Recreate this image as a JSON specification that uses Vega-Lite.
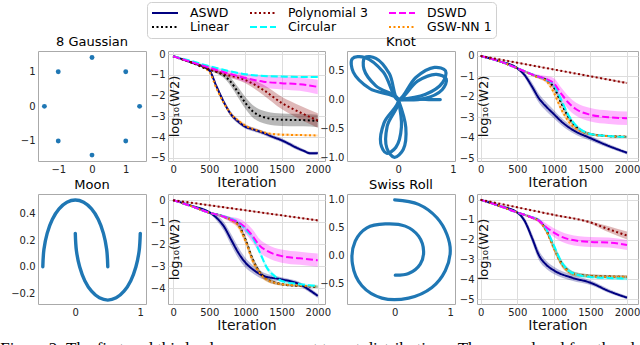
{
"$schema": "https://vega.github.io/schema/vega-lite/v6.json",
"padding": {"left": 0, "top": 1, "right": 0, "bottom": 0},
"background": "white",
"datasets": {
"shapes": [
{"p":"ga","t":"a","i":0,"x":1.41,"y":0},{"p":"ga","t":"a","i":1,"x":1,"y":1},{"p":"ga","t":"a","i":2,"x":0,"y":1.41},{"p":"ga","t":"a","i":3,"x":-1,"y":1},{"p":"ga","t":"a","i":4,"x":-1.41,"y":0},{"p":"ga","t":"a","i":5,"x":-1,"y":-1},{"p":"ga","t":"a","i":6,"x":0,"y":-1.41},{"p":"ga","t":"a","i":7,"x":1,"y":-1},
{"p":"kn","t":"a","i":0,"x":0,"y":0},{"p":"kn","t":"a","i":1,"x":0.492,"y":0.087},{"p":"kn","t":"a","i":2,"x":0.814,"y":0.296},{"p":"kn","t":"a","i":3,"x":0.866,"y":0.5},{"p":"kn","t":"a","i":4,"x":0.663,"y":0.557},{"p":"kn","t":"a","i":5,"x":0.321,"y":0.383},{"p":"kn","t":"a","i":6,"x":0,"y":0},{"p":"kn","t":"a","i":7,"x":-0.275,"y":0.476},{"p":"kn","t":"a","i":8,"x":-0.613,"y":0.729},{"p":"kn","t":"a","i":9,"x":-0.843,"y":0.707},{"p":"kn","t":"a","i":10,"x":-0.825,"y":0.476},{"p":"kn","t":"a","i":11,"x":-0.517,"y":0.188},{"p":"kn","t":"a","i":12,"x":0,"y":0},{"p":"kn","t":"a","i":13,"x":-0.203,"y":-0.457},{"p":"kn","t":"a","i":14,"x":-0.209,"y":-0.84},{"p":"kn","t":"a","i":15,"x":-0.07,"y":-0.998},{"p":"kn","t":"a","i":16,"x":0.091,"y":-0.861},{"p":"kn","t":"a","i":17,"x":0.138,"y":-0.481},{"p":"kn","t":"a","i":18,"x":0,"y":0},
{"p":"kn","t":"b","i":0,"x":0,"y":0},{"p":"kn","t":"b","i":1,"x":0.475,"y":0.017},{"p":"kn","t":"b","i":2,"x":0.805,"y":0.171},{"p":"kn","t":"b","i":3,"x":0.881,"y":0.356},{"p":"kn","t":"b","i":4,"x":0.698,"y":0.436},{"p":"kn","t":"b","i":5,"x":0.353,"y":0.318},{"p":"kn","t":"b","i":6,"x":0,"y":0},{"p":"kn","t":"b","i":7,"x":-0.162,"y":0.446},{"p":"kn","t":"b","i":8,"x":-0.411,"y":0.713},{"p":"kn","t":"b","i":9,"x":-0.611,"y":0.728},{"p":"kn","t":"b","i":10,"x":-0.63,"y":0.529},{"p":"kn","t":"b","i":11,"x":-0.411,"y":0.238},{"p":"kn","t":"b","i":12,"x":0,"y":0},{"p":"kn","t":"b","i":13,"x":-0.259,"y":-0.398},{"p":"kn","t":"b","i":14,"x":-0.322,"y":-0.758},{"p":"kn","t":"b","i":15,"x":-0.214,"y":-0.926},{"p":"kn","t":"b","i":16,"x":-0.043,"y":-0.822},{"p":"kn","t":"b","i":17,"x":0.058,"y":-0.471},{"p":"kn","t":"b","i":18,"x":0,"y":0},
{"p":"kn","t":"c","i":0,"x":0,"y":0},{"p":"kn","t":"c","i":1,"x":0.2,"y":0.01},{"p":"kn","t":"c","i":2,"x":0.4,"y":0.01},{"p":"kn","t":"c","i":3,"x":0.6,"y":0},{"p":"kn","t":"c","i":4,"x":0.77,"y":0},
{"p":"mo","t":"u","i":0,"x":0.5,"y":0},{"p":"mo","t":"u","i":1,"x":0.483,"y":0.129},{"p":"mo","t":"u","i":2,"x":0.433,"y":0.25},{"p":"mo","t":"u","i":3,"x":0.354,"y":0.354},{"p":"mo","t":"u","i":4,"x":0.25,"y":0.433},{"p":"mo","t":"u","i":5,"x":0.129,"y":0.483},{"p":"mo","t":"u","i":6,"x":0,"y":0.5},{"p":"mo","t":"u","i":7,"x":-0.129,"y":0.483},{"p":"mo","t":"u","i":8,"x":-0.25,"y":0.433},{"p":"mo","t":"u","i":9,"x":-0.354,"y":0.354},{"p":"mo","t":"u","i":10,"x":-0.433,"y":0.25},{"p":"mo","t":"u","i":11,"x":-0.483,"y":0.129},{"p":"mo","t":"u","i":12,"x":-0.5,"y":0},
{"p":"mo","t":"l","i":0,"x":0,"y":0.25},{"p":"mo","t":"l","i":1,"x":0.017,"y":0.121},{"p":"mo","t":"l","i":2,"x":0.067,"y":0},{"p":"mo","t":"l","i":3,"x":0.146,"y":-0.104},{"p":"mo","t":"l","i":4,"x":0.25,"y":-0.183},{"p":"mo","t":"l","i":5,"x":0.371,"y":-0.233},{"p":"mo","t":"l","i":6,"x":0.5,"y":-0.25},{"p":"mo","t":"l","i":7,"x":0.629,"y":-0.233},{"p":"mo","t":"l","i":8,"x":0.75,"y":-0.183},{"p":"mo","t":"l","i":9,"x":0.854,"y":-0.104},{"p":"mo","t":"l","i":10,"x":0.933,"y":0},{"p":"mo","t":"l","i":11,"x":0.983,"y":0.121},{"p":"mo","t":"l","i":12,"x":1,"y":0.25},
{"p":"sw","t":"a","i":0,"x":0,"y":1.0},{"p":"sw","t":"a","i":1,"x":0.43,"y":0.92},{"p":"sw","t":"a","i":2,"x":0.76,"y":0.68},{"p":"sw","t":"a","i":3,"x":0.94,"y":0.38},{"p":"sw","t":"a","i":4,"x":1.0,"y":0.08},{"p":"sw","t":"a","i":5,"x":0.91,"y":-0.27},{"p":"sw","t":"a","i":6,"x":0.67,"y":-0.57},{"p":"sw","t":"a","i":7,"x":0.25,"y":-0.76},{"p":"sw","t":"a","i":8,"x":-0.23,"y":-0.76},{"p":"sw","t":"a","i":9,"x":-0.59,"y":-0.54},{"p":"sw","t":"a","i":10,"x":-0.76,"y":-0.15},{"p":"sw","t":"a","i":11,"x":-0.71,"y":0.26},{"p":"sw","t":"a","i":12,"x":-0.5,"y":0.5},{"p":"sw","t":"a","i":13,"x":-0.17,"y":0.57},{"p":"sw","t":"a","i":14,"x":0.19,"y":0.53},{"p":"sw","t":"a","i":15,"x":0.43,"y":0.35},{"p":"sw","t":"a","i":16,"x":0.52,"y":0.08},{"p":"sw","t":"a","i":17,"x":0.46,"y":-0.15},{"p":"sw","t":"a","i":18,"x":0.25,"y":-0.32},{"p":"sw","t":"a","i":19,"x":0.01,"y":-0.35}
],
"curves": [
{"p":"g","m":"ASWD","x":0,"y":-0.1,"lo":-0.12,"hi":-0.08},{"p":"g","m":"ASWD","x":250,"y":-0.4,"lo":-0.43,"hi":-0.37},{"p":"g","m":"ASWD","x":500,"y":-0.78,"lo":-0.83,"hi":-0.73},{"p":"g","m":"ASWD","x":600,"y":-1.55,"lo":-1.65,"hi":-1.45},{"p":"g","m":"ASWD","x":700,"y":-2.3,"lo":-2.42,"hi":-2.18},{"p":"g","m":"ASWD","x":800,"y":-2.9,"lo":-3.02,"hi":-2.78},{"p":"g","m":"ASWD","x":900,"y":-3.25,"lo":-3.35,"hi":-3.15},{"p":"g","m":"ASWD","x":1000,"y":-3.5,"lo":-3.6,"hi":-3.4},{"p":"g","m":"ASWD","x":1100,"y":-3.62,"lo":-3.72,"hi":-3.52},{"p":"g","m":"ASWD","x":1250,"y":-3.8,"lo":-3.9,"hi":-3.7},{"p":"g","m":"ASWD","x":1400,"y":-4.02,"lo":-4.12,"hi":-3.92},{"p":"g","m":"ASWD","x":1500,"y":-4.15,"lo":-4.25,"hi":-4.05},{"p":"g","m":"ASWD","x":1600,"y":-4.32,"lo":-4.42,"hi":-4.22},{"p":"g","m":"ASWD","x":1700,"y":-4.5,"lo":-4.6,"hi":-4.4},{"p":"g","m":"ASWD","x":1800,"y":-4.65,"lo":-4.73,"hi":-4.57},{"p":"g","m":"ASWD","x":1900,"y":-4.78,"lo":-4.86,"hi":-4.7},{"p":"g","m":"ASWD","x":2000,"y":-4.77,"lo":-4.85,"hi":-4.69},
{"p":"g","m":"GSW-NN 1","x":0,"y":-0.1,"lo":-0.12,"hi":-0.08},{"p":"g","m":"GSW-NN 1","x":250,"y":-0.4,"lo":-0.43,"hi":-0.37},{"p":"g","m":"GSW-NN 1","x":500,"y":-0.85,"lo":-0.9,"hi":-0.8},{"p":"g","m":"GSW-NN 1","x":600,"y":-1.65,"lo":-1.73,"hi":-1.57},{"p":"g","m":"GSW-NN 1","x":700,"y":-2.35,"lo":-2.43,"hi":-2.27},{"p":"g","m":"GSW-NN 1","x":800,"y":-2.88,"lo":-2.96,"hi":-2.8},{"p":"g","m":"GSW-NN 1","x":900,"y":-3.2,"lo":-3.28,"hi":-3.12},{"p":"g","m":"GSW-NN 1","x":1000,"y":-3.45,"lo":-3.53,"hi":-3.37},{"p":"g","m":"GSW-NN 1","x":1100,"y":-3.6,"lo":-3.66,"hi":-3.54},{"p":"g","m":"GSW-NN 1","x":1200,"y":-3.72,"lo":-3.78,"hi":-3.66},{"p":"g","m":"GSW-NN 1","x":1350,"y":-3.84,"lo":-3.89,"hi":-3.79},{"p":"g","m":"GSW-NN 1","x":1500,"y":-3.88,"lo":-3.93,"hi":-3.83},{"p":"g","m":"GSW-NN 1","x":1750,"y":-3.9,"lo":-3.95,"hi":-3.85},{"p":"g","m":"GSW-NN 1","x":2000,"y":-3.92,"lo":-3.97,"hi":-3.87},
{"p":"g","m":"Linear","x":0,"y":-0.1,"lo":-0.12,"hi":-0.08},{"p":"g","m":"Linear","x":250,"y":-0.4,"lo":-0.43,"hi":-0.37},{"p":"g","m":"Linear","x":500,"y":-0.75,"lo":-0.8,"hi":-0.7},{"p":"g","m":"Linear","x":600,"y":-0.85,"lo":-0.93,"hi":-0.77},{"p":"g","m":"Linear","x":700,"y":-1.02,"lo":-1.14,"hi":-0.9},{"p":"g","m":"Linear","x":800,"y":-1.35,"lo":-1.55,"hi":-1.15},{"p":"g","m":"Linear","x":900,"y":-1.85,"lo":-2.1,"hi":-1.6},{"p":"g","m":"Linear","x":1000,"y":-2.35,"lo":-2.63,"hi":-2.07},{"p":"g","m":"Linear","x":1100,"y":-2.75,"lo":-3.05,"hi":-2.45},{"p":"g","m":"Linear","x":1200,"y":-2.97,"lo":-3.27,"hi":-2.67},{"p":"g","m":"Linear","x":1300,"y":-3.08,"lo":-3.38,"hi":-2.78},{"p":"g","m":"Linear","x":1400,"y":-3.14,"lo":-3.44,"hi":-2.84},{"p":"g","m":"Linear","x":1600,"y":-3.17,"lo":-3.47,"hi":-2.87},{"p":"g","m":"Linear","x":1800,"y":-3.18,"lo":-3.48,"hi":-2.88},{"p":"g","m":"Linear","x":2000,"y":-3.22,"lo":-3.52,"hi":-2.92},
{"p":"g","m":"Polynomial 3","x":0,"y":-0.1,"lo":-0.12,"hi":-0.08},{"p":"g","m":"Polynomial 3","x":250,"y":-0.4,"lo":-0.43,"hi":-0.37},{"p":"g","m":"Polynomial 3","x":500,"y":-0.72,"lo":-0.77,"hi":-0.67},{"p":"g","m":"Polynomial 3","x":750,"y":-1.0,"lo":-1.1,"hi":-0.9},{"p":"g","m":"Polynomial 3","x":1000,"y":-1.25,"lo":-1.4,"hi":-1.1},{"p":"g","m":"Polynomial 3","x":1250,"y":-1.73,"lo":-1.98,"hi":-1.48},{"p":"g","m":"Polynomial 3","x":1500,"y":-2.35,"lo":-2.65,"hi":-2.05},{"p":"g","m":"Polynomial 3","x":1750,"y":-2.8,"lo":-3.13,"hi":-2.47},{"p":"g","m":"Polynomial 3","x":2000,"y":-3.2,"lo":-3.55,"hi":-2.85},
{"p":"g","m":"Circular","x":0,"y":-0.1,"lo":-0.12,"hi":-0.08},{"p":"g","m":"Circular","x":250,"y":-0.33,"lo":-0.36,"hi":-0.3},{"p":"g","m":"Circular","x":500,"y":-0.58,"lo":-0.62,"hi":-0.54},{"p":"g","m":"Circular","x":750,"y":-0.8,"lo":-0.85,"hi":-0.75},{"p":"g","m":"Circular","x":1000,"y":-0.97,"lo":-1.02,"hi":-0.92},{"p":"g","m":"Circular","x":1250,"y":-1.05,"lo":-1.1,"hi":-1.0},{"p":"g","m":"Circular","x":1500,"y":-1.08,"lo":-1.13,"hi":-1.03},{"p":"g","m":"Circular","x":1750,"y":-1.1,"lo":-1.15,"hi":-1.05},{"p":"g","m":"Circular","x":2000,"y":-1.1,"lo":-1.15,"hi":-1.05},
{"p":"g","m":"DSWD","x":0,"y":-0.1,"lo":-0.12,"hi":-0.08},{"p":"g","m":"DSWD","x":250,"y":-0.38,"lo":-0.41,"hi":-0.35},{"p":"g","m":"DSWD","x":500,"y":-0.65,"lo":-0.7,"hi":-0.6},{"p":"g","m":"DSWD","x":750,"y":-0.92,"lo":-1.04,"hi":-0.8},{"p":"g","m":"DSWD","x":1000,"y":-1.15,"lo":-1.35,"hi":-0.95},{"p":"g","m":"DSWD","x":1250,"y":-1.33,"lo":-1.61,"hi":-1.05},{"p":"g","m":"DSWD","x":1500,"y":-1.4,"lo":-1.7,"hi":-1.1},{"p":"g","m":"DSWD","x":1750,"y":-1.45,"lo":-1.77,"hi":-1.13},{"p":"g","m":"DSWD","x":2000,"y":-1.58,"lo":-1.93,"hi":-1.23},
{"p":"k","m":"ASWD","x":0,"y":-0.02,"lo":-0.04,"hi":0},{"p":"k","m":"ASWD","x":250,"y":-0.27,"lo":-0.3,"hi":-0.24},{"p":"k","m":"ASWD","x":500,"y":-0.62,"lo":-0.68,"hi":-0.56},{"p":"k","m":"ASWD","x":600,"y":-0.95,"lo":-1.07,"hi":-0.83},{"p":"k","m":"ASWD","x":700,"y":-1.5,"lo":-1.7,"hi":-1.3},{"p":"k","m":"ASWD","x":800,"y":-2.1,"lo":-2.32,"hi":-1.88},{"p":"k","m":"ASWD","x":900,"y":-2.5,"lo":-2.72,"hi":-2.28},{"p":"k","m":"ASWD","x":1000,"y":-2.85,"lo":-3.05,"hi":-2.65},{"p":"k","m":"ASWD","x":1100,"y":-3.2,"lo":-3.38,"hi":-3.02},{"p":"k","m":"ASWD","x":1250,"y":-3.6,"lo":-3.75,"hi":-3.45},{"p":"k","m":"ASWD","x":1500,"y":-4.02,"lo":-4.14,"hi":-3.9},{"p":"k","m":"ASWD","x":1750,"y":-4.4,"lo":-4.5,"hi":-4.3},{"p":"k","m":"ASWD","x":2000,"y":-4.73,"lo":-4.81,"hi":-4.65},
{"p":"k","m":"Linear","x":0,"y":-0.02,"lo":-0.04,"hi":0},{"p":"k","m":"Linear","x":250,"y":-0.27,"lo":-0.3,"hi":-0.24},{"p":"k","m":"Linear","x":500,"y":-0.62,"lo":-0.67,"hi":-0.57},{"p":"k","m":"Linear","x":750,"y":-1.0,"lo":-1.06,"hi":-0.94},{"p":"k","m":"Linear","x":900,"y":-1.2,"lo":-1.28,"hi":-1.12},{"p":"k","m":"Linear","x":1000,"y":-1.55,"lo":-1.65,"hi":-1.45},{"p":"k","m":"Linear","x":1100,"y":-2.3,"lo":-2.42,"hi":-2.18},{"p":"k","m":"Linear","x":1200,"y":-3.0,"lo":-3.12,"hi":-2.88},{"p":"k","m":"Linear","x":1300,"y":-3.45,"lo":-3.55,"hi":-3.35},{"p":"k","m":"Linear","x":1400,"y":-3.7,"lo":-3.78,"hi":-3.62},{"p":"k","m":"Linear","x":1500,"y":-3.82,"lo":-3.88,"hi":-3.76},{"p":"k","m":"Linear","x":1750,"y":-3.92,"lo":-3.97,"hi":-3.87},{"p":"k","m":"Linear","x":2000,"y":-3.95,"lo":-4.0,"hi":-3.9},
{"p":"k","m":"GSW-NN 1","x":0,"y":-0.02,"lo":-0.04,"hi":0},{"p":"k","m":"GSW-NN 1","x":250,"y":-0.27,"lo":-0.3,"hi":-0.24},{"p":"k","m":"GSW-NN 1","x":500,"y":-0.62,"lo":-0.67,"hi":-0.57},{"p":"k","m":"GSW-NN 1","x":750,"y":-1.02,"lo":-1.08,"hi":-0.96},{"p":"k","m":"GSW-NN 1","x":900,"y":-1.25,"lo":-1.35,"hi":-1.15},{"p":"k","m":"GSW-NN 1","x":1000,"y":-1.8,"lo":-1.94,"hi":-1.66},{"p":"k","m":"GSW-NN 1","x":1100,"y":-2.6,"lo":-2.74,"hi":-2.46},{"p":"k","m":"GSW-NN 1","x":1200,"y":-3.2,"lo":-3.32,"hi":-3.08},{"p":"k","m":"GSW-NN 1","x":1300,"y":-3.55,"lo":-3.65,"hi":-3.45},{"p":"k","m":"GSW-NN 1","x":1400,"y":-3.72,"lo":-3.8,"hi":-3.64},{"p":"k","m":"GSW-NN 1","x":1500,"y":-3.83,"lo":-3.89,"hi":-3.77},{"p":"k","m":"GSW-NN 1","x":1750,"y":-3.92,"lo":-3.97,"hi":-3.87},{"p":"k","m":"GSW-NN 1","x":2000,"y":-3.95,"lo":-4.0,"hi":-3.9},
{"p":"k","m":"Circular","x":0,"y":-0.02,"lo":-0.04,"hi":0},{"p":"k","m":"Circular","x":250,"y":-0.27,"lo":-0.3,"hi":-0.24},{"p":"k","m":"Circular","x":500,"y":-0.62,"lo":-0.67,"hi":-0.57},{"p":"k","m":"Circular","x":750,"y":-0.98,"lo":-1.04,"hi":-0.92},{"p":"k","m":"Circular","x":900,"y":-1.18,"lo":-1.26,"hi":-1.1},{"p":"k","m":"Circular","x":1000,"y":-1.42,"lo":-1.52,"hi":-1.32},{"p":"k","m":"Circular","x":1100,"y":-2.15,"lo":-2.27,"hi":-2.03},{"p":"k","m":"Circular","x":1200,"y":-2.9,"lo":-3.02,"hi":-2.78},{"p":"k","m":"Circular","x":1300,"y":-3.4,"lo":-3.5,"hi":-3.3},{"p":"k","m":"Circular","x":1400,"y":-3.68,"lo":-3.76,"hi":-3.6},{"p":"k","m":"Circular","x":1500,"y":-3.82,"lo":-3.88,"hi":-3.76},{"p":"k","m":"Circular","x":1750,"y":-3.92,"lo":-3.97,"hi":-3.87},{"p":"k","m":"Circular","x":2000,"y":-3.96,"lo":-4.01,"hi":-3.91},
{"p":"k","m":"DSWD","x":0,"y":-0.02,"lo":-0.04,"hi":0},{"p":"k","m":"DSWD","x":250,"y":-0.27,"lo":-0.3,"hi":-0.24},{"p":"k","m":"DSWD","x":500,"y":-0.62,"lo":-0.67,"hi":-0.57},{"p":"k","m":"DSWD","x":750,"y":-0.98,"lo":-1.06,"hi":-0.9},{"p":"k","m":"DSWD","x":900,"y":-1.15,"lo":-1.3,"hi":-1.0},{"p":"k","m":"DSWD","x":1000,"y":-1.35,"lo":-1.6,"hi":-1.1},{"p":"k","m":"DSWD","x":1100,"y":-1.85,"lo":-2.15,"hi":-1.55},{"p":"k","m":"DSWD","x":1200,"y":-2.3,"lo":-2.62,"hi":-1.98},{"p":"k","m":"DSWD","x":1300,"y":-2.6,"lo":-2.92,"hi":-2.28},{"p":"k","m":"DSWD","x":1500,"y":-2.88,"lo":-3.21,"hi":-2.55},{"p":"k","m":"DSWD","x":1750,"y":-3.0,"lo":-3.33,"hi":-2.67},{"p":"k","m":"DSWD","x":2000,"y":-3.05,"lo":-3.38,"hi":-2.72},
{"p":"k","m":"Polynomial 3","x":0,"y":-0.02,"lo":-0.04,"hi":0},{"p":"k","m":"Polynomial 3","x":500,"y":-0.35,"lo":-0.38,"hi":-0.32},{"p":"k","m":"Polynomial 3","x":1000,"y":-0.68,"lo":-0.71,"hi":-0.65},{"p":"k","m":"Polynomial 3","x":1500,"y":-1.01,"lo":-1.05,"hi":-0.97},{"p":"k","m":"Polynomial 3","x":2000,"y":-1.34,"lo":-1.39,"hi":-1.29},
{"p":"m","m":"ASWD","x":0,"y":0,"lo":-0.02,"hi":0.02},{"p":"m","m":"ASWD","x":250,"y":-0.25,"lo":-0.28,"hi":-0.22},{"p":"m","m":"ASWD","x":500,"y":-0.55,"lo":-0.61,"hi":-0.49},{"p":"m","m":"ASWD","x":600,"y":-0.8,"lo":-0.92,"hi":-0.68},{"p":"m","m":"ASWD","x":700,"y":-1.18,"lo":-1.38,"hi":-0.98},{"p":"m","m":"ASWD","x":800,"y":-1.78,"lo":-2.03,"hi":-1.53},{"p":"m","m":"ASWD","x":900,"y":-2.38,"lo":-2.63,"hi":-2.13},{"p":"m","m":"ASWD","x":1000,"y":-2.84,"lo":-3.06,"hi":-2.62},{"p":"m","m":"ASWD","x":1100,"y":-3.14,"lo":-3.32,"hi":-2.96},{"p":"m","m":"ASWD","x":1250,"y":-3.44,"lo":-3.59,"hi":-3.29},{"p":"m","m":"ASWD","x":1500,"y":-3.6,"lo":-3.7,"hi":-3.5},{"p":"m","m":"ASWD","x":1750,"y":-3.82,"lo":-3.92,"hi":-3.72},{"p":"m","m":"ASWD","x":1900,"y":-4.12,"lo":-4.22,"hi":-4.02},{"p":"m","m":"ASWD","x":2000,"y":-4.35,"lo":-4.45,"hi":-4.25},
{"p":"m","m":"Linear","x":0,"y":0,"lo":-0.02,"hi":0.02},{"p":"m","m":"Linear","x":250,"y":-0.27,"lo":-0.3,"hi":-0.24},{"p":"m","m":"Linear","x":500,"y":-0.57,"lo":-0.62,"hi":-0.52},{"p":"m","m":"Linear","x":600,"y":-0.65,"lo":-0.7,"hi":-0.6},{"p":"m","m":"Linear","x":700,"y":-0.75,"lo":-0.81,"hi":-0.69},{"p":"m","m":"Linear","x":800,"y":-0.88,"lo":-0.96,"hi":-0.8},{"p":"m","m":"Linear","x":900,"y":-1.1,"lo":-1.22,"hi":-0.98},{"p":"m","m":"Linear","x":1000,"y":-1.78,"lo":-1.93,"hi":-1.63},{"p":"m","m":"Linear","x":1100,"y":-2.69,"lo":-2.84,"hi":-2.54},{"p":"m","m":"Linear","x":1200,"y":-3.29,"lo":-3.41,"hi":-3.17},{"p":"m","m":"Linear","x":1300,"y":-3.6,"lo":-3.7,"hi":-3.5},{"p":"m","m":"Linear","x":1400,"y":-3.74,"lo":-3.82,"hi":-3.66},{"p":"m","m":"Linear","x":1500,"y":-3.82,"lo":-3.88,"hi":-3.76},{"p":"m","m":"Linear","x":1750,"y":-3.9,"lo":-3.95,"hi":-3.85},{"p":"m","m":"Linear","x":2000,"y":-3.94,"lo":-3.99,"hi":-3.89},
{"p":"m","m":"GSW-NN 1","x":0,"y":0,"lo":-0.02,"hi":0.02},{"p":"m","m":"GSW-NN 1","x":250,"y":-0.27,"lo":-0.3,"hi":-0.24},{"p":"m","m":"GSW-NN 1","x":500,"y":-0.57,"lo":-0.62,"hi":-0.52},{"p":"m","m":"GSW-NN 1","x":600,"y":-0.66,"lo":-0.71,"hi":-0.61},{"p":"m","m":"GSW-NN 1","x":700,"y":-0.76,"lo":-0.82,"hi":-0.7},{"p":"m","m":"GSW-NN 1","x":800,"y":-0.9,"lo":-1.0,"hi":-0.8},{"p":"m","m":"GSW-NN 1","x":900,"y":-1.15,"lo":-1.3,"hi":-1.0},{"p":"m","m":"GSW-NN 1","x":1000,"y":-1.85,"lo":-2.03,"hi":-1.67},{"p":"m","m":"GSW-NN 1","x":1100,"y":-2.75,"lo":-2.93,"hi":-2.57},{"p":"m","m":"GSW-NN 1","x":1200,"y":-3.32,"lo":-3.47,"hi":-3.17},{"p":"m","m":"GSW-NN 1","x":1300,"y":-3.62,"lo":-3.72,"hi":-3.52},{"p":"m","m":"GSW-NN 1","x":1400,"y":-3.75,"lo":-3.83,"hi":-3.67},{"p":"m","m":"GSW-NN 1","x":1500,"y":-3.82,"lo":-3.88,"hi":-3.76},{"p":"m","m":"GSW-NN 1","x":1750,"y":-3.88,"lo":-3.93,"hi":-3.83},{"p":"m","m":"GSW-NN 1","x":2000,"y":-3.92,"lo":-3.97,"hi":-3.87},
{"p":"m","m":"Circular","x":0,"y":0,"lo":-0.02,"hi":0.02},{"p":"m","m":"Circular","x":250,"y":-0.27,"lo":-0.3,"hi":-0.24},{"p":"m","m":"Circular","x":500,"y":-0.57,"lo":-0.62,"hi":-0.52},{"p":"m","m":"Circular","x":600,"y":-0.65,"lo":-0.7,"hi":-0.6},{"p":"m","m":"Circular","x":700,"y":-0.74,"lo":-0.8,"hi":-0.68},{"p":"m","m":"Circular","x":800,"y":-0.85,"lo":-0.93,"hi":-0.77},{"p":"m","m":"Circular","x":900,"y":-1.0,"lo":-1.1,"hi":-0.9},{"p":"m","m":"Circular","x":1000,"y":-1.33,"lo":-1.45,"hi":-1.21},{"p":"m","m":"Circular","x":1100,"y":-1.7,"lo":-1.82,"hi":-1.58},{"p":"m","m":"Circular","x":1200,"y":-2.38,"lo":-2.5,"hi":-2.26},{"p":"m","m":"Circular","x":1300,"y":-3.09,"lo":-3.21,"hi":-2.97},{"p":"m","m":"Circular","x":1400,"y":-3.44,"lo":-3.54,"hi":-3.34},{"p":"m","m":"Circular","x":1500,"y":-3.67,"lo":-3.75,"hi":-3.59},{"p":"m","m":"Circular","x":1750,"y":-3.82,"lo":-3.88,"hi":-3.76},{"p":"m","m":"Circular","x":2000,"y":-3.9,"lo":-3.96,"hi":-3.84},
{"p":"m","m":"DSWD","x":0,"y":0,"lo":-0.02,"hi":0.02},{"p":"m","m":"DSWD","x":250,"y":-0.27,"lo":-0.3,"hi":-0.24},{"p":"m","m":"DSWD","x":500,"y":-0.57,"lo":-0.62,"hi":-0.52},{"p":"m","m":"DSWD","x":600,"y":-0.65,"lo":-0.71,"hi":-0.59},{"p":"m","m":"DSWD","x":700,"y":-0.75,"lo":-0.83,"hi":-0.67},{"p":"m","m":"DSWD","x":800,"y":-0.88,"lo":-1.0,"hi":-0.76},{"p":"m","m":"DSWD","x":900,"y":-1.0,"lo":-1.18,"hi":-0.82},{"p":"m","m":"DSWD","x":1000,"y":-1.25,"lo":-1.5,"hi":-1.0},{"p":"m","m":"DSWD","x":1100,"y":-1.63,"lo":-1.93,"hi":-1.33},{"p":"m","m":"DSWD","x":1200,"y":-2.08,"lo":-2.38,"hi":-1.78},{"p":"m","m":"DSWD","x":1300,"y":-2.31,"lo":-2.61,"hi":-2.01},{"p":"m","m":"DSWD","x":1500,"y":-2.54,"lo":-2.84,"hi":-2.24},{"p":"m","m":"DSWD","x":1750,"y":-2.64,"lo":-2.94,"hi":-2.34},{"p":"m","m":"DSWD","x":2000,"y":-2.73,"lo":-3.03,"hi":-2.43},
{"p":"m","m":"Polynomial 3","x":0,"y":0,"lo":-0.02,"hi":0.02},{"p":"m","m":"Polynomial 3","x":500,"y":-0.23,"lo":-0.26,"hi":-0.2},{"p":"m","m":"Polynomial 3","x":1000,"y":-0.46,"lo":-0.49,"hi":-0.43},{"p":"m","m":"Polynomial 3","x":1500,"y":-0.69,"lo":-0.72,"hi":-0.66},{"p":"m","m":"Polynomial 3","x":2000,"y":-0.92,"lo":-0.96,"hi":-0.88},
{"p":"s","m":"ASWD","x":0,"y":0,"lo":-0.02,"hi":0.02},{"p":"s","m":"ASWD","x":250,"y":-0.3,"lo":-0.33,"hi":-0.27},{"p":"s","m":"ASWD","x":500,"y":-0.64,"lo":-0.7,"hi":-0.58},{"p":"s","m":"ASWD","x":600,"y":-1.06,"lo":-1.21,"hi":-0.91},{"p":"s","m":"ASWD","x":700,"y":-1.9,"lo":-2.12,"hi":-1.68},{"p":"s","m":"ASWD","x":800,"y":-2.82,"lo":-3.07,"hi":-2.57},{"p":"s","m":"ASWD","x":900,"y":-3.28,"lo":-3.48,"hi":-3.08},{"p":"s","m":"ASWD","x":1000,"y":-3.55,"lo":-3.73,"hi":-3.37},{"p":"s","m":"ASWD","x":1250,"y":-3.92,"lo":-4.07,"hi":-3.77},{"p":"s","m":"ASWD","x":1500,"y":-4.17,"lo":-4.29,"hi":-4.05},{"p":"s","m":"ASWD","x":1750,"y":-4.59,"lo":-4.69,"hi":-4.49},{"p":"s","m":"ASWD","x":2000,"y":-4.92,"lo":-5.0,"hi":-4.84},
{"p":"s","m":"Linear","x":0,"y":0,"lo":-0.02,"hi":0.02},{"p":"s","m":"Linear","x":250,"y":-0.3,"lo":-0.33,"hi":-0.27},{"p":"s","m":"Linear","x":500,"y":-0.64,"lo":-0.69,"hi":-0.59},{"p":"s","m":"Linear","x":700,"y":-0.89,"lo":-0.95,"hi":-0.83},{"p":"s","m":"Linear","x":800,"y":-1.06,"lo":-1.14,"hi":-0.98},{"p":"s","m":"Linear","x":900,"y":-1.56,"lo":-1.68,"hi":-1.44},{"p":"s","m":"Linear","x":1000,"y":-2.4,"lo":-2.55,"hi":-2.25},{"p":"s","m":"Linear","x":1100,"y":-3.16,"lo":-3.31,"hi":-3.01},{"p":"s","m":"Linear","x":1200,"y":-3.58,"lo":-3.7,"hi":-3.46},{"p":"s","m":"Linear","x":1300,"y":-3.75,"lo":-3.85,"hi":-3.65},{"p":"s","m":"Linear","x":1500,"y":-3.83,"lo":-3.91,"hi":-3.75},{"p":"s","m":"Linear","x":1750,"y":-3.86,"lo":-3.94,"hi":-3.78},{"p":"s","m":"Linear","x":2000,"y":-3.88,"lo":-3.96,"hi":-3.8},
{"p":"s","m":"GSW-NN 1","x":0,"y":0,"lo":-0.02,"hi":0.02},{"p":"s","m":"GSW-NN 1","x":250,"y":-0.3,"lo":-0.33,"hi":-0.27},{"p":"s","m":"GSW-NN 1","x":500,"y":-0.64,"lo":-0.69,"hi":-0.59},{"p":"s","m":"GSW-NN 1","x":700,"y":-0.9,"lo":-0.96,"hi":-0.84},{"p":"s","m":"GSW-NN 1","x":800,"y":-1.08,"lo":-1.16,"hi":-1.0},{"p":"s","m":"GSW-NN 1","x":900,"y":-1.6,"lo":-1.72,"hi":-1.48},{"p":"s","m":"GSW-NN 1","x":1000,"y":-2.45,"lo":-2.6,"hi":-2.3},{"p":"s","m":"GSW-NN 1","x":1100,"y":-3.2,"lo":-3.35,"hi":-3.05},{"p":"s","m":"GSW-NN 1","x":1200,"y":-3.6,"lo":-3.72,"hi":-3.48},{"p":"s","m":"GSW-NN 1","x":1300,"y":-3.76,"lo":-3.86,"hi":-3.66},{"p":"s","m":"GSW-NN 1","x":1500,"y":-3.84,"lo":-3.92,"hi":-3.76},{"p":"s","m":"GSW-NN 1","x":1750,"y":-3.87,"lo":-3.95,"hi":-3.79},{"p":"s","m":"GSW-NN 1","x":2000,"y":-3.88,"lo":-3.96,"hi":-3.8},
{"p":"s","m":"Circular","x":0,"y":0,"lo":-0.02,"hi":0.02},{"p":"s","m":"Circular","x":250,"y":-0.3,"lo":-0.33,"hi":-0.27},{"p":"s","m":"Circular","x":500,"y":-0.64,"lo":-0.69,"hi":-0.59},{"p":"s","m":"Circular","x":700,"y":-0.88,"lo":-0.94,"hi":-0.82},{"p":"s","m":"Circular","x":800,"y":-1.04,"lo":-1.12,"hi":-0.96},{"p":"s","m":"Circular","x":900,"y":-1.5,"lo":-1.62,"hi":-1.38},{"p":"s","m":"Circular","x":1000,"y":-2.3,"lo":-2.45,"hi":-2.15},{"p":"s","m":"Circular","x":1100,"y":-3.1,"lo":-3.25,"hi":-2.95},{"p":"s","m":"Circular","x":1200,"y":-3.55,"lo":-3.67,"hi":-3.43},{"p":"s","m":"Circular","x":1300,"y":-3.75,"lo":-3.85,"hi":-3.65},{"p":"s","m":"Circular","x":1500,"y":-3.88,"lo":-3.96,"hi":-3.8},{"p":"s","m":"Circular","x":1750,"y":-3.93,"lo":-4.01,"hi":-3.85},{"p":"s","m":"Circular","x":2000,"y":-3.97,"lo":-4.05,"hi":-3.89},
{"p":"s","m":"DSWD","x":0,"y":0,"lo":-0.02,"hi":0.02},{"p":"s","m":"DSWD","x":250,"y":-0.3,"lo":-0.33,"hi":-0.27},{"p":"s","m":"DSWD","x":500,"y":-0.64,"lo":-0.69,"hi":-0.59},{"p":"s","m":"DSWD","x":700,"y":-0.89,"lo":-0.97,"hi":-0.81},{"p":"s","m":"DSWD","x":800,"y":-1.06,"lo":-1.18,"hi":-0.94},{"p":"s","m":"DSWD","x":900,"y":-1.39,"lo":-1.57,"hi":-1.21},{"p":"s","m":"DSWD","x":1000,"y":-1.65,"lo":-1.87,"hi":-1.43},{"p":"s","m":"DSWD","x":1200,"y":-1.98,"lo":-2.23,"hi":-1.73},{"p":"s","m":"DSWD","x":1500,"y":-2.12,"lo":-2.37,"hi":-1.87},{"p":"s","m":"DSWD","x":1750,"y":-2.15,"lo":-2.4,"hi":-1.9},{"p":"s","m":"DSWD","x":2000,"y":-2.27,"lo":-2.52,"hi":-2.02},
{"p":"s","m":"Polynomial 3","x":0,"y":0,"lo":-0.02,"hi":0.02},{"p":"s","m":"Polynomial 3","x":500,"y":-0.38,"lo":-0.41,"hi":-0.35},{"p":"s","m":"Polynomial 3","x":1000,"y":-0.76,"lo":-0.8,"hi":-0.72},{"p":"s","m":"Polynomial 3","x":1500,"y":-1.14,"lo":-1.2,"hi":-1.08},{"p":"s","m":"Polynomial 3","x":1750,"y":-1.48,"lo":-1.63,"hi":-1.33},{"p":"s","m":"Polynomial 3","x":2000,"y":-1.8,"lo":-2.0,"hi":-1.6}
]
},
"columns": 4,
"spacing": {"row": 33, "column": 22},
"bounds": "flush",
"resolve": {"scale": {"color": "shared", "strokeDash": "shared", "fill": "shared"}, "legend": {"color": "independent", "strokeDash": "independent", "fill": "independent"}},
"title": {"text": "Figure 2: The first and third columns represent target distributions. The second and fourth columns are log 2-Wasserstein", "orient": "bottom", "anchor": "start", "frame": "bounds", "font": "Liberation Serif", "fontSize": 17, "fontWeight": "normal", "color": "#000000", "offset": 8, "dx": -10},
"concat": [
{"width": 108, "height": 110, "title": {"text": "8 Gaussian"},
 "data": {"name": "shapes"}, "transform": [{"filter": "datum.p == 'ga'"}],
 "mark": {"type": "circle", "size": 24, "opacity": 1, "color": "#1f77b4"},
 "encoding": {
  "x": {"field": "x", "type": "quantitative", "scale": {"domain": [-1.6, 1.6], "nice": false, "zero": false}, "axis": {"values": [-1, 0, 1], "format": "d", "title": null, "grid": false}},
  "y": {"field": "y", "type": "quantitative", "scale": {"domain": [-1.58, 1.6], "nice": false, "zero": false}, "axis": {"values": [-1, 0, 1], "format": "d", "title": null, "grid": false}}
 }},
{"width": 157, "height": 110,
 "data": {"name": "curves"}, "transform": [{"filter": "datum.p == 'g'"}],
 "encoding": {"x": {"field": "x", "type": "quantitative", "scale": {"domain": [-70, 2100], "nice": false, "zero": false}, "axis": {"values": [0, 500, 1000, 1500, 2000], "format": "d", "title": "Iteration", "titleFontSize": 14, "titlePadding": 1}}},
 "layer": [
  {"mark": {"type": "area", "opacity": 0.28, "interpolate": "monotone", "clip": true},
   "encoding": {"y": {"field": "lo", "type": "quantitative", "scale": {"domain": [-5.15, 0.15], "nice": false, "zero": false}, "axis": {"values": [0, -1, -2, -3, -4, -5], "format": "d", "title": "log₁₀(W2)", "titleX": 13, "titleY": 55}}, "y2": {"field": "hi"},
    "fill": {"field": "m", "type": "nominal", "scale": {"domain": ["ASWD", "Polynomial 3", "DSWD", "Linear", "Circular", "GSW-NN 1"], "range": ["#000080", "#8b0000", "#ff00ff", "#000000", "#00ffff", "#ff8c00"]}, "legend": null}}},
  {"mark": {"type": "line", "strokeWidth": 2, "interpolate": "monotone", "clip": true},
   "encoding": {"y": {"field": "y", "type": "quantitative", "scale": {"domain": [-5.15, 0.15], "nice": false, "zero": false}, "axis": {"values": [0, -1, -2, -3, -4, -5], "format": "d", "title": "log₁₀(W2)", "titleX": 13, "titleY": 55}},
    "color": {"field": "m", "type": "nominal", "scale": {"domain": ["ASWD", "Linear", "Polynomial 3", "Circular", "DSWD", "GSW-NN 1"], "range": ["#000080", "#000000", "#8b0000", "#00ffff", "#ff00ff", "#ff8c00"]}, "legend": {"title": null, "orient": "none", "legendX": -21, "legendY": -49, "columns": 3, "symbolType": "stroke", "clipHeight": 14}},
    "strokeDash": {"field": "m", "type": "nominal", "scale": {"domain": ["ASWD", "Linear", "Polynomial 3", "Circular", "DSWD", "GSW-NN 1"], "range": [[1, 0], [2, 2.5], [2, 2.5], [7, 3], [7, 3], [2, 2.5]]}, "legend": {"title": null, "orient": "none", "legendX": -21, "legendY": -49, "columns": 3, "symbolType": "stroke", "clipHeight": 14}}}}
 ]},
{"width": 108, "height": 110, "title": {"text": "Knot"},
 "data": {"name": "shapes"}, "transform": [{"filter": "datum.p == 'kn'"}],
 "mark": {"type": "line", "strokeWidth": 3.2, "color": "#1f77b4", "interpolate": "catmull-rom", "strokeCap": "round", "clip": true},
 "encoding": {
  "x": {"field": "x", "type": "quantitative", "scale": {"domain": [-0.94, 1.04], "nice": false, "zero": false}, "axis": {"values": [0, 1], "format": "d", "title": null, "grid": false}},
  "y": {"field": "y", "type": "quantitative", "scale": {"domain": [-1.06, 0.84], "nice": false, "zero": false}, "axis": {"values": [0.5, 0, -0.5, -1], "format": ".1f", "title": null, "grid": false}},
  "detail": {"field": "t"}, "order": {"field": "i"}
 }},
{"width": 161, "height": 110,
 "data": {"name": "curves"}, "transform": [{"filter": "datum.p == 'k'"}],
 "encoding": {"x": {"field": "x", "type": "quantitative", "scale": {"domain": [-50, 2150], "nice": false, "zero": false}, "axis": {"values": [0, 500, 1000, 1500, 2000], "format": "d", "title": "Iteration", "titleFontSize": 14, "titlePadding": 1}}},
 "layer": [
  {"mark": {"type": "area", "opacity": 0.28, "interpolate": "monotone", "clip": true},
   "encoding": {"y": {"field": "lo", "type": "quantitative", "scale": {"domain": [-5.13, 0.22], "nice": false, "zero": false}, "axis": {"values": [0, -1, -2, -3, -4, -5], "format": "d", "title": "log₁₀(W2)", "titleX": 13, "titleY": 55}}, "y2": {"field": "hi"},
    "fill": {"field": "m", "type": "nominal", "legend": null}}},
  {"mark": {"type": "line", "strokeWidth": 2, "interpolate": "monotone", "clip": true},
   "encoding": {"y": {"field": "y", "type": "quantitative", "scale": {"domain": [-5.13, 0.22], "nice": false, "zero": false}, "axis": {"values": [0, -1, -2, -3, -4, -5], "format": "d", "title": "log₁₀(W2)", "titleX": 13, "titleY": 55}},
    "color": {"field": "m", "type": "nominal", "legend": null}, "strokeDash": {"field": "m", "type": "nominal", "legend": null}}}
 ]},
{"width": 108, "height": 110, "title": {"text": "Moon"},
 "data": {"name": "shapes"}, "transform": [{"filter": "datum.p == 'mo'"}],
 "mark": {"type": "line", "strokeWidth": 3.4, "color": "#1f77b4", "interpolate": "catmull-rom", "strokeCap": "round", "clip": true},
 "encoding": {
  "x": {"field": "x", "type": "quantitative", "scale": {"domain": [-0.574, 1.088], "nice": false, "zero": false}, "axis": {"values": [0, 1], "format": "d", "title": null, "grid": false}},
  "y": {"field": "y", "type": "quantitative", "scale": {"domain": [-0.279, 0.545], "nice": false, "zero": false}, "axis": {"values": [0.4, 0.2, 0, -0.2], "format": ".1f", "title": null, "grid": false}},
  "detail": {"field": "t"}, "order": {"field": "i"}
 }},
{"width": 157, "height": 110,
 "data": {"name": "curves"}, "transform": [{"filter": "datum.p == 'm'"}],
 "encoding": {"x": {"field": "x", "type": "quantitative", "scale": {"domain": [-70, 2100], "nice": false, "zero": false}, "axis": {"values": [0, 500, 1000, 1500, 2000], "format": "d", "title": "Iteration", "titleFontSize": 14, "titlePadding": 1}}},
 "layer": [
  {"mark": {"type": "area", "opacity": 0.28, "interpolate": "monotone", "clip": true},
   "encoding": {"y": {"field": "lo", "type": "quantitative", "scale": {"domain": [-4.72, 0.28], "nice": false, "zero": false}, "axis": {"values": [0, -1, -2, -3, -4], "format": "d", "title": "log₁₀(W2)", "titleX": 13, "titleY": 55}}, "y2": {"field": "hi"},
    "fill": {"field": "m", "type": "nominal", "legend": null}}},
  {"mark": {"type": "line", "strokeWidth": 2, "interpolate": "monotone", "clip": true},
   "encoding": {"y": {"field": "y", "type": "quantitative", "scale": {"domain": [-4.72, 0.28], "nice": false, "zero": false}, "axis": {"values": [0, -1, -2, -3, -4], "format": "d", "title": "log₁₀(W2)", "titleX": 13, "titleY": 55}},
    "color": {"field": "m", "type": "nominal", "legend": null}, "strokeDash": {"field": "m", "type": "nominal", "legend": null}}}
 ]},
{"width": 108, "height": 110, "title": {"text": "Swiss Roll"},
 "data": {"name": "shapes"}, "transform": [{"filter": "datum.p == 'sw'"}],
 "mark": {"type": "line", "strokeWidth": 3.2, "color": "#1f77b4", "interpolate": "catmull-rom", "strokeCap": "round", "clip": true},
 "encoding": {
  "x": {"field": "x", "type": "quantitative", "scale": {"domain": [-0.858, 1.085], "nice": false, "zero": false}, "axis": {"values": [0, 1], "format": "d", "title": null, "grid": false}},
  "y": {"field": "y", "type": "quantitative", "scale": {"domain": [-0.866, 1.106], "nice": false, "zero": false}, "axis": {"values": [1, 0.5, 0, -0.5], "format": ".1f", "title": null, "grid": false}},
  "detail": {"field": "t"}, "order": {"field": "i"}
 }},
{"width": 161, "height": 110,
 "data": {"name": "curves"}, "transform": [{"filter": "datum.p == 's'"}],
 "encoding": {"x": {"field": "x", "type": "quantitative", "scale": {"domain": [-50, 2150], "nice": false, "zero": false}, "axis": {"values": [0, 500, 1000, 1500, 2000], "format": "d", "title": "Iteration", "titleFontSize": 14, "titlePadding": 1}}},
 "layer": [
  {"mark": {"type": "area", "opacity": 0.28, "interpolate": "monotone", "clip": true},
   "encoding": {"y": {"field": "lo", "type": "quantitative", "scale": {"domain": [-5.24, 0.29], "nice": false, "zero": false}, "axis": {"values": [0, -1, -2, -3, -4, -5], "format": "d", "title": "log₁₀(W2)", "titleX": 13, "titleY": 55}}, "y2": {"field": "hi"},
    "fill": {"field": "m", "type": "nominal", "legend": null}}},
  {"mark": {"type": "line", "strokeWidth": 2, "interpolate": "monotone", "clip": true},
   "encoding": {"y": {"field": "y", "type": "quantitative", "scale": {"domain": [-5.24, 0.29], "nice": false, "zero": false}, "axis": {"values": [0, -1, -2, -3, -4, -5], "format": "d", "title": "log₁₀(W2)", "titleX": 13, "titleY": 55}},
    "color": {"field": "m", "type": "nominal", "legend": null}, "strokeDash": {"field": "m", "type": "nominal", "legend": null}}}
 ]}
],
"config": {
 "font": "DejaVu Sans",
 "view": {"stroke": "#aaaaaa"},
 "axis": {"domain": false, "ticks": false, "labelFontSize": 10, "labelColor": "#222222", "labelPadding": 3, "titleFontSize": 13, "titleFontWeight": "normal", "titleColor": "#111111", "gridColor": "#dddddd", "gridWidth": 1, "labelFont": "DejaVu Sans", "titleFont": "DejaVu Sans"},
 "title": {"fontSize": 13, "fontWeight": "normal", "offset": 2, "font": "DejaVu Sans", "color": "#000000"},
 "legend": {"labelFont": "DejaVu Sans", "labelFontSize": 12.5, "labelColor": "#000000", "symbolStrokeWidth": 2, "symbolSize": 676, "columnPadding": 20, "rowPadding": 0, "padding": 4, "strokeColor": "#d0d0d0", "cornerRadius": 4, "fillColor": "#ffffff", "labelOffset": 11, "clipHeight": 14}
}
}
